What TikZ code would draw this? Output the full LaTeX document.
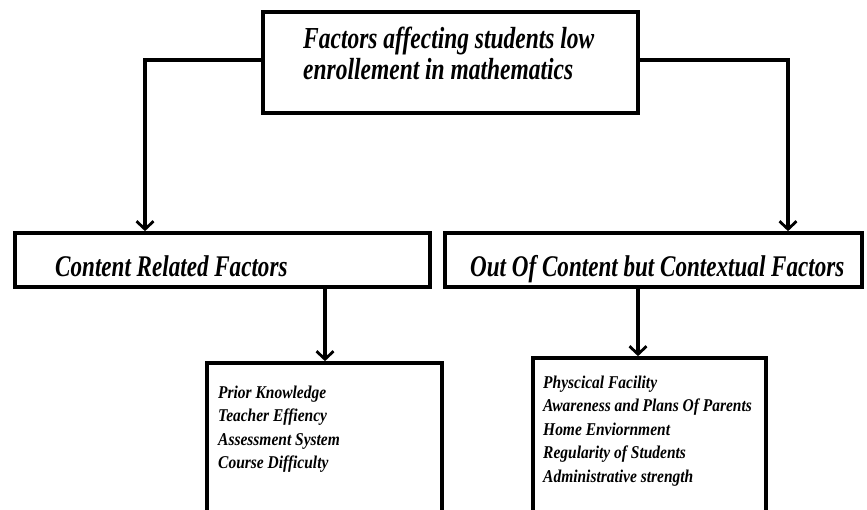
\documentclass[tikz,border=0pt]{standalone}
\usepackage{fontspec}
\setmainfont{Liberation Serif}[FakeStretch=0.77]
\newfontfamily\smallserif{Liberation Serif}[FakeStretch=0.86]
\usetikzlibrary{arrows.meta}
\tikzset{
  box/.style={draw, line width=3.7pt, inner sep=0pt},
  conn/.style={line width=3.7pt, -{Straight Barb[length=8pt,width=17pt,line width=2.8pt]}},
  bigtxt/.style={font=\fontsize{30.5}{31}\selectfont\bfseries\itshape, inner sep=0pt, align=left},
  midtxt/.style={font=\fontsize{30}{30}\selectfont\bfseries\itshape, inner sep=0pt},
  smalltxt/.style={font=\smallserif\fontsize{18}{23.5}\selectfont\bfseries\itshape, inner sep=0pt, align=left},
}
\begin{document}
\begin{tikzpicture}[x=1pt,y=-1pt]
\useasboundingbox (0,0) rectangle (867,509);
\clip (0,0) rectangle (867,509);
% top box
\node[box, minimum width=375pt, minimum height=101pt] (top) at (450.5,62.5) {};
\node[bigtxt, anchor=north west] (toptxt) at (303,26.5) {Factors affecting students low\\enrollement in mathematics};
% middle boxes
\node[box, minimum width=415pt, minimum height=54pt] (cr) at (222.5,260) {};
\node[midtxt, anchor=base west] (crtxt) at (55,276) {Content Related Factors};
\node[box, minimum width=417pt, minimum height=54pt] (oc) at (653.5,260) {};
\node[midtxt, anchor=base west] (octxt) at (470,276) {Out Of Content but Contextual Factors};
% lower boxes
\node[box, minimum width=235pt, minimum height=170pt] (lb) at (324.5,448) {};
\node[smalltxt, anchor=north west] (lbtxt) at (218,385.5) {Prior Knowledge\\Teacher Effiency\\Assessment System\\Course Difficulty};
\node[box, minimum width=233pt, minimum height=170pt] (rb) at (649.5,443) {};
\node[smalltxt, anchor=north west] (rbtxt) at (543,375.5) {Physcical Facility\\Awareness and Plans Of Parents\\Home Enviornment\\Regularity of Students\\Administrative strength};
% connectors
\coordinate (tl) at (145,60);
\coordinate (tr) at (788,60);
\draw[conn] (top.west |- tl) -- (tl) -- (tl |- cr.north);
\draw[conn] (top.east |- tr) -- (tr) -- (tr |- oc.north);
\coordinate (cl) at (325,287);
\coordinate (cc) at (638,287);
\draw[conn] (cl |- cr.south) -- (cl |- lb.north);
\draw[conn] (cc |- oc.south) -- (cc |- rb.north);
\end{tikzpicture}
\end{document}
